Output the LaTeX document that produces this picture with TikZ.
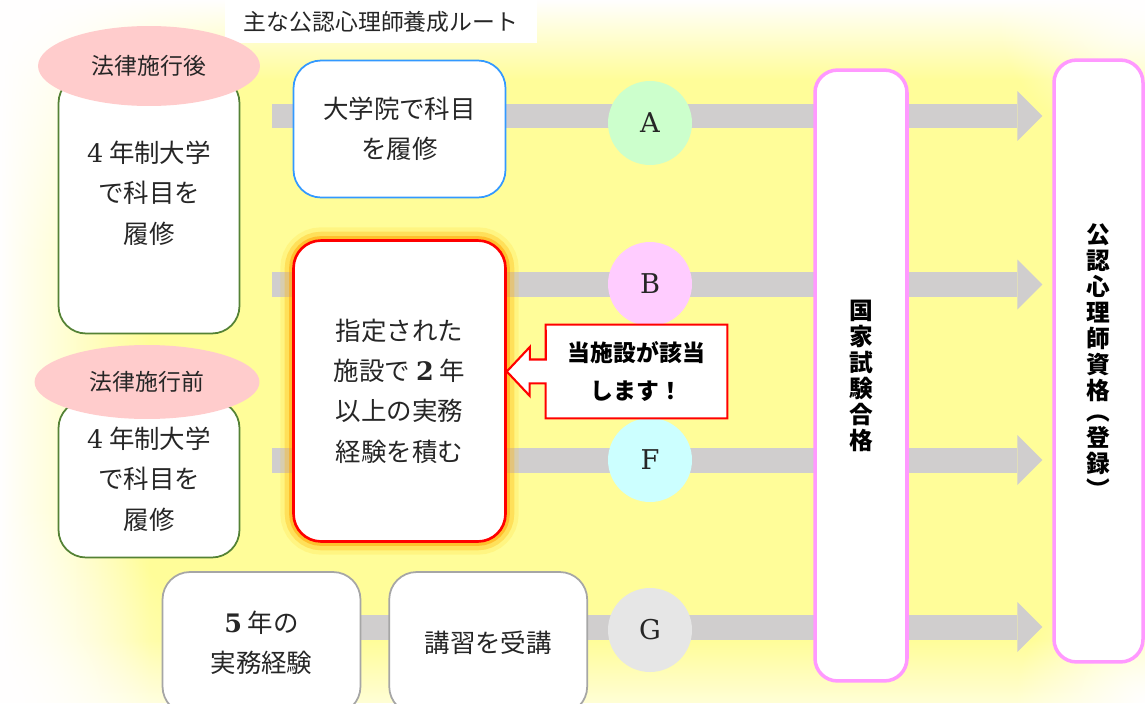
\documentclass[tikz,border=0pt]{standalone}
\usepackage{fontspec}
\newfontfamily\jp{Noto Sans CJK JP}
\newfontfamily\serifnum{DejaVu Serif}
\usetikzlibrary{arrows.meta, positioning, fadings, shapes.geometric}

\definecolor{bgyellow}{HTML}{FFFD99}
\definecolor{bargray}{HTML}{D0CECE}
\definecolor{lawpink}{HTML}{FFCCCC}
\definecolor{boxgreen}{HTML}{548235}
\definecolor{boxblue}{HTML}{3399FF}
\definecolor{goalpink}{HTML}{FF99FF}
\definecolor{tagA}{HTML}{CCFFCC}
\definecolor{tagB}{HTML}{FFCCFF}
\definecolor{tagF}{HTML}{CCFFFF}
\definecolor{tagG}{HTML}{E6E6E6}

\newcommand\digit[1]{{\serifnum #1}}

\tikzfading[name=soft spot, inner color=transparent!0, outer color=transparent!100]

\pgfdeclarelayer{bg}
\pgfdeclarelayer{bars}
\pgfsetlayers{bg,bars,main}

\begin{document}
\begin{tikzpicture}[
x=0.02cm, y=-0.02cm,
node distance = 0.54cm,
every node/.append style = {text=black!85},
route/.style = {draw, fill=white, rounded corners=0.55cm, line width=1pt,
                align=center, inner sep=0pt,
                font=\jp\fontsize{14.5}{23}\selectfont},
law/.style   = {ellipse, fill=lawpink, inner sep=0pt,
                font=\jp\fontsize{13}{16}\selectfont},
tag/.style   = {circle, inner sep=0pt, minimum size=1.68cm,
                font=\serifnum\fontsize{15.5}{18}\selectfont},
goal/.style  = {draw=goalpink, fill=white, line width=2pt,
                rounded corners=0.45cm, align=center, inner sep=0pt,
                font=\jp\bfseries\fontsize{13.5}{14.8}\selectfont, text=black},
glow/.style  = {preaction={draw=orange!40!yellow, line width=15pt, opacity=.15},
                preaction={draw=orange!60!yellow, line width=10pt, opacity=.3},
                preaction={draw=orange!75!yellow, line width=5pt, opacity=.5}},
bar/.style   = {draw=bargray, line width=0.5cm,
                -{Triangle[length=0.5cm, width=1cm, line width=0pt]}},
                        ]
\useasboundingbox (0,0) rectangle (1145,703);
% background
\begin{pgfonlayer}{bg}
\begin{scope}
\clip (0,0) rectangle (1145,703);
\fill[bgyellow] (0,0) rectangle (1145,703);
\fill[white, path fading=east] (0,0) rectangle (150,703);
\fill[white, path fading=south] (0,0) rectangle (1145,80);
\fill[white, path fading=north, opacity=.6] (0,640) rectangle (1145,703);
\fill[white, path fading=soft spot] (0,703) circle (200);
\fill[white, path fading=soft spot] (1145,703) circle (130);
\fill[white, path fading=soft spot] (0,0) circle (260);
\fill[white, path fading=soft spot] (1145,0) circle (150);
\end{scope}
\end{pgfonlayer}

\node (title) [fill=white, minimum width=6.24cm, minimum height=0.86cm,
               font=\jp\fontsize{13}{16}\selectfont] at (381,21.5) {主な公認心理師養成ルート};

% routes
\node (after)   [route, draw=boxgreen, minimum width=3.62cm, minimum height=5.16cm]
                at (149,204.5) {\digit{4} 年制大学\\で科目を\\履修\\[-9pt]\mbox{}};
\node (lawA)    [law, minimum width=4.44cm, minimum height=1.6cm] at (149,66) {法律施行後};
\node (before)  [route, draw=boxgreen, minimum width=3.62cm, minimum height=3.14cm]
                at (149,479) {\digit{4} 年制大学\\で科目を\\履修};
\node (lawB)    [law, minimum width=4.5cm, minimum height=1.48cm] at (147,382) {法律施行前};
\node (grad)    [route, draw=boxblue, minimum width=4.24cm, minimum height=2.74cm]
                at (399.5,129) {大学院で科目\\を履修};
\node (work)    [route, draw=red, line width=1.5pt, glow, minimum width=4.24cm, minimum height=6.02cm]
                at (399.5,391) {指定された\\施設で \digit{\bfseries 2} 年\\以上の実務\\経験を積む};
\node (exp)     [route, draw=gray!70, minimum width=3.96cm, minimum height=2.84cm]
                at (261.5,643) {\digit{\bfseries 5} 年の\\実務経験};
\node (lecture) [route, draw=gray!70, minimum width=3.96cm, minimum height=2.84cm,
                 right=of exp] {講習を受講};

% route marks
\node (A) [tag, fill=tagA] at (650,123) {A};
\node (B) [tag, fill=tagB] at (650,284) {B};
\node (F) [tag, fill=tagF] at (650,460) {F};
\node (G) [tag, fill=tagG] at (650,630) {G};

\node (exam)    [goal, minimum width=1.84cm, minimum height=12.22cm]
                at (861,375.5) {国\\家\\試\\験\\合\\格};
\node (license) [goal, minimum width=1.78cm, minimum height=12.04cm]
                at (1098.5,361) {公\\認\\心\\理\\師\\資\\格\\[-3pt]︵\\登\\録\\︶};

% callout
\node (note) [fill=white, minimum width=3.62cm, minimum height=1.86cm, align=center,
              font=\jp\bfseries\fontsize{13}{21.5}\selectfont, text=black]
             at (636.5,371.5) {当施設が該当\\します！};
\coordinate (tip) at (work.east |- note.center);
\fill[white] (note.south west) -- ++(0,-35) -- ++(-16,0) -- ++(0,12.5) -- (tip)
      -- ++(23,-24.5) -- ++(0,12.5) -- ++(16,0) -- cycle;
\draw[red, line width=1.2pt, line join=miter]
      (note.north west) -- (note.north east) -- (note.south east) -- (note.south west)
      -- ++(0,-35) -- ++(-16,0) -- ++(0,12.5) -- (tip)
      -- ++(23,-24.5) -- ++(0,12.5) -- ++(16,0) -- cycle;

% routes to the licence
\coordinate (a0) at (272,116);
\coordinate (b0) at (272,284.5);
\coordinate (f0) at (272,460);
\coordinate (g0) at (300,627);
\begin{pgfonlayer}{bars}
\draw[bar] (a0) -- ([xshift=-0.2cm]license.west |- a0);
\draw[bar] (b0) -- ([xshift=-0.2cm]license.west |- b0);
\draw[bar] (f0) -- ([xshift=-0.2cm]license.west |- f0);
\draw[bar] (g0) -- ([xshift=-0.2cm]license.west |- g0);
\end{pgfonlayer}
\end{tikzpicture}
\end{document}
